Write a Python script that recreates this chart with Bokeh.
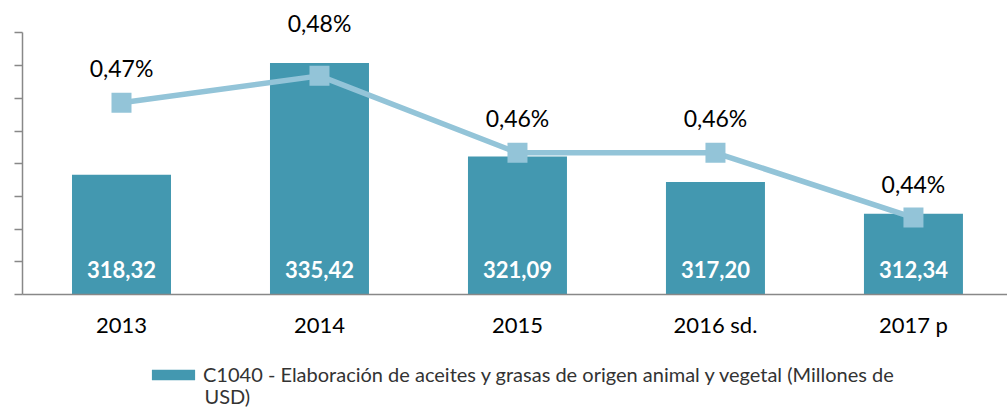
from bokeh.plotting import figure
from bokeh.models import (Range1d, LinearAxis, FixedTicker, ColumnDataSource, LabelSet,
                          Legend, LegendItem, Label)
from bokeh.layouts import column
from bokeh.core.properties import value
from bokeh.embed import file_html
from bokeh.resources import INLINE

years = ["2013", "2014", "2015", "2016 sd.", "2017 p"]
valores = [318.32, 335.42, 321.09, 317.20, 312.34]
valores_txt = ["318,32", "335,42", "321,09", "317,20", "312,34"]
participacion = [0.4724, 0.4800, 0.4583, 0.4583, 0.4400]
participacion_txt = ["0,47%", "0,48%", "0,46%", "0,46%", "0,44%"]
serie = "C1040 - Elaboración de aceites y grasas de origen animal y vegetal (Millones de"
serie2 = "USD)"
y_ticks = [300, 305, 310, 315, 320, 325, 330, 335, 340]

FONT = "Lato"
BAR = "#4398B0"
LINE = "#93C4D8"
AXIS = "#888888"

xs = [i + 0.5 for i in range(len(years))]

p = figure(width=1007, height=355, output_backend="svg", toolbar_location=None,
           x_range=Range1d(0, 4.975), y_range=Range1d(300, 344.97),
           min_border_left=22, min_border_right=0, min_border_top=0, min_border_bottom=61,
           y_axis_location=None, x_axis_location=None)
p.outline_line_color = None
p.xgrid.visible = False
p.ygrid.visible = False
p.extra_y_ranges = {"pct": Range1d(0.4183, 0.50127)}

src = ColumnDataSource(dict(x=xs, v=valores, vt=valores_txt, pc=participacion, pt=participacion_txt,
                            base=[300] * len(xs)))

bars = p.vbar(x="x", top="v", bottom="base", width=0.5, source=src, fill_color=BAR, line_color=None)

# axes
yax = LinearAxis(ticker=FixedTicker(ticks=y_ticks), bounds=(300, 340),
                 major_label_overrides={t: "" for t in y_ticks})
yax.major_label_standoff = 0
yax.major_tick_out = 8
yax.major_tick_in = 0
yax.minor_tick_line_color = None
yax.axis_line_color = AXIS
yax.axis_line_width = 1.5
yax.major_tick_line_color = AXIS
yax.major_tick_line_width = 1.5
p.add_layout(yax, "left")

xax = LinearAxis(ticker=FixedTicker(ticks=xs),
                 major_label_overrides={x: y for x, y in zip(xs, years)})
xax.major_tick_line_color = None
xax.minor_tick_line_color = None
xax.axis_line_color = AXIS
xax.axis_line_width = 1.5
xax.major_label_standoff = 10
xax.major_label_text_font = FONT
xax.major_label_text_font_size = "22px"
xax.major_label_text_color = "#000000"
p.add_layout(xax, "below")

# bar value labels
p.add_layout(LabelSet(x="x", y="base", text="vt", source=src, y_offset=25,
                      text_align="center", text_baseline="middle", text_color="white",
                      text_font=value(FONT), text_font_size=value("22px"), text_font_style="bold"))

# line
p.line(x="x", y="pc", source=src, y_range_name="pct", line_color=LINE, line_width=5.5)
p.scatter(x="x", y="pc", source=src, y_range_name="pct", marker="square", size=20,
          fill_color=LINE, line_color=None)

off = [35, 53, 35, 35, 34]
src2 = ColumnDataSource(dict(x=xs, pc=participacion, pt=participacion_txt, off=off))
p.add_layout(LabelSet(x="x", y="pc", text="pt", source=src2, y_range_name="pct", y_offset="off",
                      text_align="center", text_baseline="middle", text_color="#000000",
                      text_font=value(FONT), text_font_size=value("23px")))

# legend strip
q = figure(width=1007, height=55, output_backend="svg", toolbar_location=None,
           x_range=Range1d(0, 1007), y_range=Range1d(0, 55),
           min_border=0, x_axis_location=None, y_axis_location=None)
q.outline_line_color = None
q.xgrid.visible = False
q.ygrid.visible = False
proxy = ColumnDataSource(dict(x=[-1000], top=[-1000]))
leg_r = q.vbar(x="x", top="top", width=1, source=proxy, fill_color=BAR, line_color=None)
legend = Legend(items=[LegendItem(label=serie, renderers=[leg_r])], location=(124, 24),
                orientation="horizontal", padding=0, margin=0, border_line_color=None,
                background_fill_alpha=0, glyph_width=54, glyph_height=13, label_standoff=3,
                label_text_font=FONT, label_text_font_size="20px", label_text_color="#333333")
q.add_layout(legend, "center")
q.add_layout(Label(x=182, y=3, x_units="screen", y_units="screen", text=serie2,
                   text_font=FONT, text_font_size="20px", text_color="#333333"))

open("out.html", "w").write(file_html(column(p, q, spacing=0), INLINE))
